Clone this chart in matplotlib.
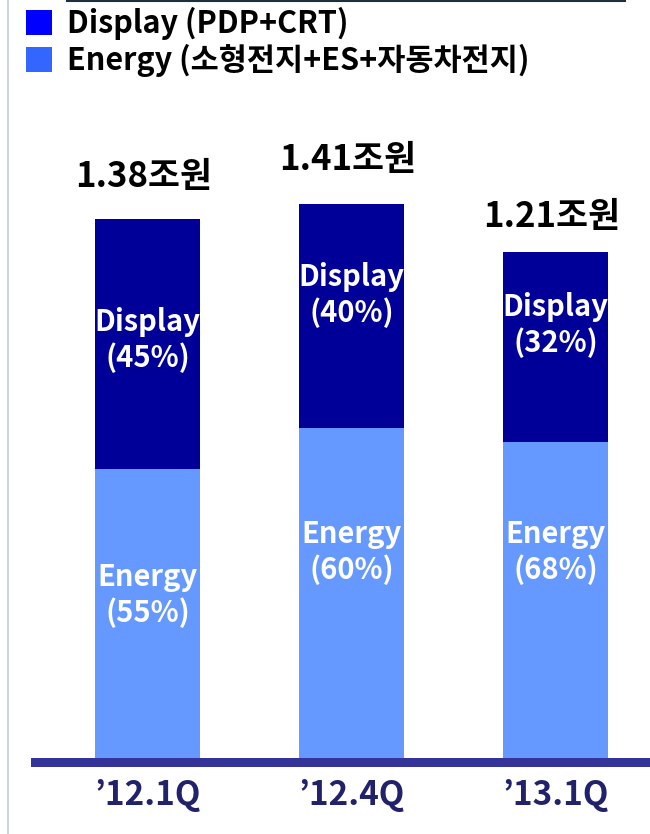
import matplotlib
matplotlib.use("Agg")
import matplotlib.pyplot as plt
from matplotlib.patches import Patch
from matplotlib.lines import Line2D
import numpy as np

plt.rcParams['font.family'] = ['Noto Sans CJK KR', 'DejaVu Sans']

# ---- data (segment heights as drawn, arbitrary units) ----
categories = ["’12.1Q", "’12.4Q", "’13.1Q"]
energy_vals = [289, 330, 316]
display_vals = [250, 224, 190]
totals_text = ["1.38조원", "1.41조원", "1.21조원"]
display_pct = ["45%", "40%", "32%"]
energy_pct = ["55%", "60%", "68%"]
series_names = ["Display (PDP+CRT)", "Energy (소형전지+ES+자동차전지)"]

# label vertical positions (layout, data units)
display_label_y = [418, 463, 433]
energy_label_y = [163, 206, 206]
total_offset = [32, 34, 25]

W, H = 650, 834
fig = plt.figure(figsize=(W / 100, H / 100), dpi=100)
fig.patch.set_facecolor('white')

ax_left, ax_right = 31, 650
ax_bottom_px, ax_top_px = 767, 0
ax = fig.add_axes([ax_left / W, (H - ax_bottom_px) / H,
                   (ax_right - ax_left) / W, (ax_bottom_px - ax_top_px) / H])

x = np.arange(len(categories))
spacing = 204.0
ax.set_xlim((ax_left - 147.5) / spacing, (ax_right - 147.5) / spacing)
ax.set_ylim(-9, 758)

bw = 105 / spacing
c_display = '#000099'
c_energy = '#6699FF'
ax.bar(x, energy_vals, width=bw, color=c_energy, linewidth=0, zorder=2)
ax.bar(x, display_vals, width=bw, bottom=energy_vals, color=c_display,
       linewidth=0, zorder=2)

# baseline band
ax.axhspan(-9, 0, color='#333399', zorder=3, linewidth=0)

for i in range(len(categories)):
    top = energy_vals[i] + display_vals[i]
    ax.annotate(totals_text[i], xy=(x[i], top), xytext=(-3, total_offset[i] * 0.72),
                textcoords='offset points', ha='center', va='baseline',
                fontsize=25, fontweight='bold', color='black')
    ax.text(x[i], display_label_y[i], "Display\n(" + display_pct[i] + ")",
            ha='center', va='center', fontsize=21, fontweight='bold',
            color='white', linespacing=1.2, zorder=4)
    ax.text(x[i], energy_label_y[i], "Energy\n(" + energy_pct[i] + ")",
            ha='center', va='center', fontsize=21, fontweight='bold',
            color='white', linespacing=1.2, zorder=4)

ax.set_xticks(x)
ax.set_xticklabels(categories, fontsize=24, fontweight='bold', color='#22226B')
ax.tick_params(axis='x', length=0, pad=9)
ax.set_yticks([])
for s in ax.spines.values():
    s.set_visible(False)
ax.patch.set_alpha(0)

# legend
handles = [Patch(facecolor='#0000FF', edgecolor='none'),
           Patch(facecolor='#3366FF', edgecolor='none')]
fig.legend(handles, series_names, loc='upper left',
           bbox_to_anchor=(20 / W, 1 - 1 / H), frameon=False,
           prop={'size': 22, 'weight': 'bold'},
           handlelength=0.85, handleheight=0.85, handletextpad=0.5,
           labelspacing=0.12, borderpad=0.2, borderaxespad=0)

# decorative lines
fig.add_artist(Line2D([67 / W, 625 / W], [1 - 1 / H, 1 - 1 / H],
                      color='#1F2F3F', linewidth=1.5, transform=fig.transFigure))
fig.add_artist(Line2D([7.5 / W, 7.5 / W], [0, 1], color='#C8D0D8',
                      linewidth=1.3, transform=fig.transFigure))

fig.savefig('out.png', dpi=100, facecolor='white')
